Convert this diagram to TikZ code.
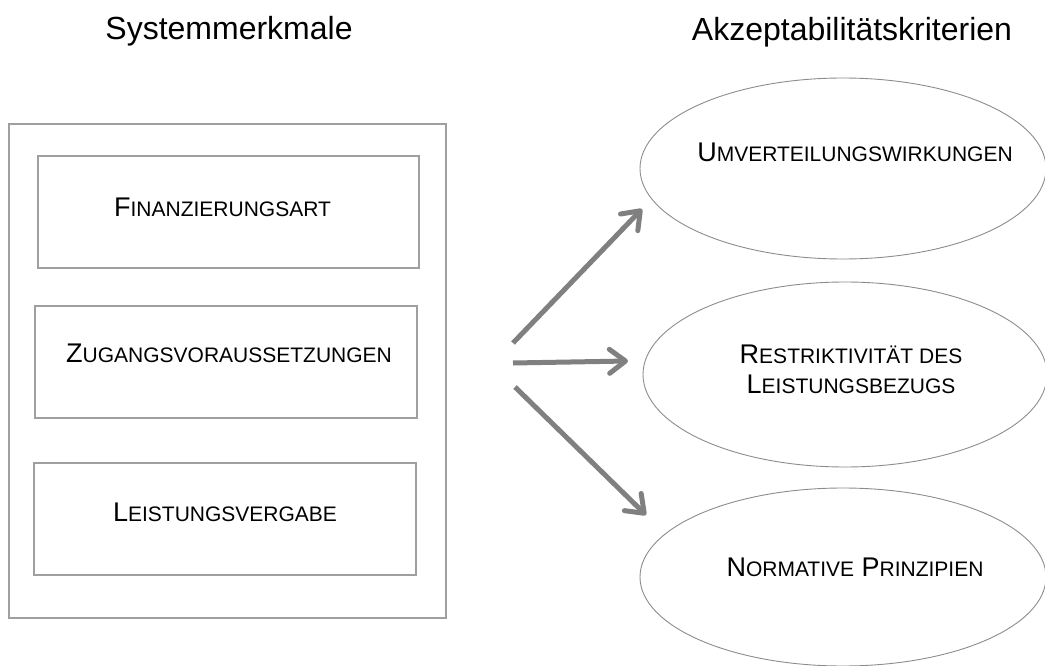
\documentclass[tikz,border=0pt]{standalone}
\usepackage{fontspec}
\setmainfont{Liberation Sans}
\usetikzlibrary{arrows.meta,shapes.geometric}
\newcommand{\scs}[1]{{\fontsize{21}{25}\selectfont #1}}
\begin{document}
\begin{tikzpicture}[x=1pt,y=-1pt,
  outerbox/.style={draw=gray!75, line width=1.2pt, inner sep=0pt, minimum width=437pt, minimum height=494pt},
  itembox/.style={draw=gray!75, line width=1.2pt, inner sep=0pt, minimum width=382pt, minimum height=112pt},
  ell/.style={ellipse, draw=gray!90, line width=0.9pt, inner sep=0pt},
  lbl/.style={anchor=base, inner sep=0pt, font=\fontsize{27}{30}\selectfont},
  ttl/.style={anchor=base, inner sep=0pt, font=\fontsize{32}{36}\selectfont},
  conn/.style={draw=gray, line width=5pt, -{Straight Barb[length=16pt,width=24pt,round]}}]
\useasboundingbox (0,0) rectangle (1045,666);
% titles
\node[ttl] (t1) at (229,40) {Systemmerkmale};
\node[ttl] (t2) at (852,41) {Akzeptabilitätskriterien};
% left boxes
\node[outerbox] (outer) at (227.5,371) {};
\node[itembox, minimum width=381pt] (b1) at (228.5,212) {};
\node[itembox] (b2) at (226,362) {};
\node[itembox] (b3) at (225,519) {};
\node[lbl] (l1) at (222.5,217) {F\scs{INANZIERUNGSART}};
\node[lbl] (l2) at (229,362) {Z\scs{UGANGSVORAUSSETZUNGEN}};
\node[lbl] (l3) at (225,521) {L\scs{EISTUNGSVERGABE}};
% ellipses
\node[ell, minimum width=406pt, minimum height=181pt] (e1) at (843,168.5) {};
\node[ell, minimum width=404pt, minimum height=185pt] (e2) at (845,374.5) {};
\node[ell, minimum width=406pt, minimum height=178pt] (e3) at (843,577) {};
\node[lbl] (m1) at (855,162) {U\scs{MVERTEILUNGSWIRKUNGEN}};
\node[lbl] (m2a) at (851,363) {R\scs{ESTRIKTIVITÄT DES}};
\node[lbl] (m2b) at (851,393) {L\scs{EISTUNGSBEZUGS}};
\node[lbl] (m3) at (855,576) {N\scs{ORMATIVE} P\scs{RINZIPIEN}};
% arrows
\coordinate (s1) at (513,343);
\coordinate (s2) at (513,363);
\coordinate (s3) at (515,387);
\coordinate (a1) at (642,209);
\coordinate (a2) at (628,361);
\coordinate (a3) at (646,515);
\draw[conn] (s1) -- (a1);
\draw[conn] (s2) -- (a2);
\draw[conn] (s3) -- (a3);
\end{tikzpicture}
\end{document}
